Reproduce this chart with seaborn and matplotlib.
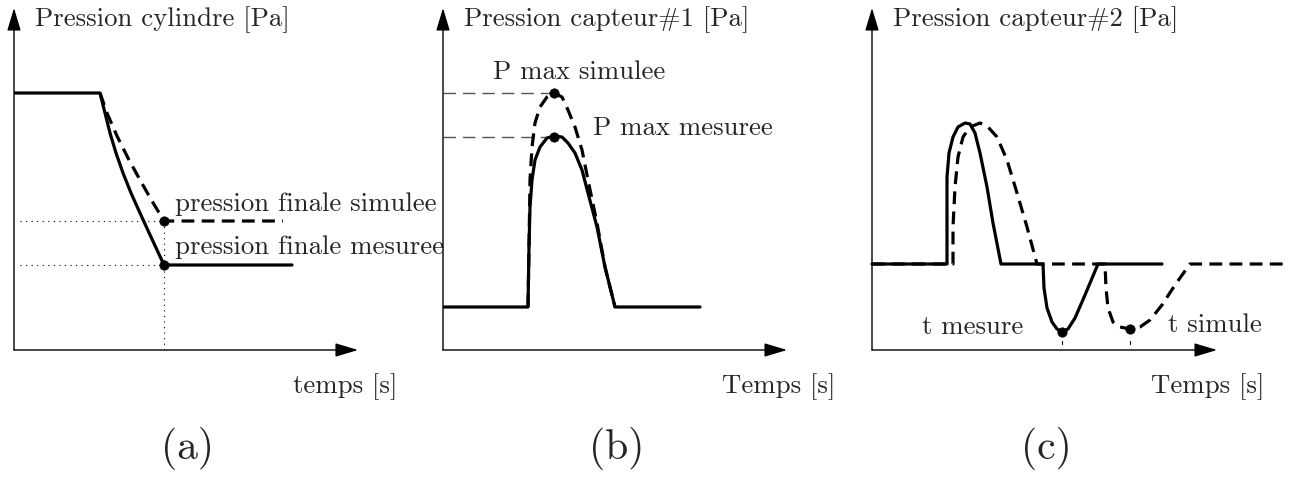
import matplotlib
matplotlib.use("Agg")
import matplotlib.pyplot as plt
import seaborn as sns

# -----------------------------
# Data (schematic curves, local units: x = time, y = pressure)
# -----------------------------
# (a) Pression cylindre
a_mes_t = [0, 86, 91, 96, 102, 109, 117, 126, 137, 150, 278]
a_mes_p = [257, 257, 237, 217, 197, 177, 157, 137, 113, 85, 85]
a_sim_t = [86, 93, 103, 114, 126, 138, 150, 269]
a_sim_p = [257, 237, 214, 192, 170, 149, 129, 129]
a_pts_t = [150, 150]
a_pts_p = [129, 85]

# (b) Pression capteur#1
b_mes_t = [0, 85, 86, 87, 89, 92, 97, 104, 111, 119, 125, 132, 139, 145, 154, 162, 172, 257]
b_mes_p = [43, 43, 103, 143, 170, 190, 203, 212, 214, 213, 207, 197, 180, 157, 123, 83, 43, 43]
b_sim_t = [85, 86, 87, 89, 92, 97, 104, 111, 119, 125, 132, 139, 145, 154, 162, 172]
b_sim_p = [43, 103, 170, 203, 227, 243, 253, 257, 253, 240, 223, 200, 170, 127, 83, 43]
b_pts_t = [111, 111]
b_pts_p = [257, 213]

# (c) Pression capteur#2
c_mes_t = [0, 75, 75, 75, 77, 81, 86, 93, 98, 103, 108, 115, 121, 129, 171,
           172, 175, 180, 185, 190, 196, 203, 213, 226, 290]
c_mes_p = [86, 86, 140, 173, 197, 213, 223, 227, 226, 217, 197, 163, 127, 86, 86,
           62, 42, 28, 21, 18, 21, 32, 55, 86, 86]
c_sim_t = [0, 81, 81, 83, 86, 91, 98, 108, 116, 125, 135, 145, 155, 165,
           233, 234, 236, 241, 248, 258, 268, 278, 290, 303, 318, 415]
c_sim_p = [86, 86, 123, 163, 193, 213, 223, 227, 223, 213, 190, 157, 123, 86,
           86, 62, 42, 28, 23, 21, 23, 30, 45, 65, 86, 86]
c_pts_t = [190, 258]
c_pts_p = [18, 21]

titles = ["Pression cylindre [Pa]", "Pression capteur#1 [Pa]", "Pression capteur#2 [Pa]"]
xlabels = ["temps [s]", "Temps [s]", "Temps [s]"]
tags = ["(a)", "(b)", "(c)"]

# -----------------------------
# Style
# -----------------------------
sns.set_style("white")
plt.rcParams["font.family"] = ["cmr10", "DejaVu Serif"]
plt.rcParams["axes.formatter.use_mathtext"] = True
FS = 19.3

W, H = 1290, 479
fig = plt.figure(figsize=(12.9, 4.79), dpi=100)

origins = [14, 443, 872]
axes = []
for x0 in origins:
    ax = fig.add_axes([x0 / W, (H - 350) / H, 345 / W, 342 / H])
    ax.set_xlim(0, 345)
    ax.set_ylim(0, 342)
    ax.axis("off")
    axes.append(ax)

solid = dict(color="black", lw=2.3, sort=False, estimator=None)
dashed = dict(color="black", lw=2.3, sort=False, estimator=None,
              linestyle=(0, (4.0, 2.3)))
dot_kw = dict(color="black", s=45, zorder=5, clip_on=False, edgecolor="black")
dotted = dict(color="black", lw=0.8, linestyle=(0, (1, 4)))

for i, ax in enumerate(axes):
    # arrowed axes
    arr = dict(arrowstyle="-|>,head_length=1.0,head_width=0.3", color="black",
               lw=1.0, shrinkA=0, shrinkB=0, mutation_scale=14)
    ax.annotate("", xy=(344 if i < 2 else 345, 0), xytext=(0, 0), arrowprops=arr,
                annotation_clip=False)
    ax.annotate("", xy=(0, 342), xytext=(0, 0), arrowprops=arr,
                annotation_clip=False)
    ax.text(21, 330, titles[i], fontsize=FS, va="center", ha="left")
    ax.text(279, -37, xlabels[i], fontsize=FS, va="center", ha="left", clip_on=False)
    ax.text(174, -98, tags[i], fontsize=30, va="center", ha="center", clip_on=False)

# (a)
ax = axes[0]
ax.plot([6, 150], [129, 129], **dotted)
ax.plot([6, 150], [85, 85], **dotted)
ax.plot([150, 150], [129, 0], **dotted)
sns.lineplot(x=a_mes_t, y=a_mes_p, ax=ax, **solid)
sns.lineplot(x=a_sim_t, y=a_sim_p, ax=ax, **dashed)
sns.scatterplot(x=a_pts_t, y=a_pts_p, ax=ax, **dot_kw)
ax.text(161, 146, "pression finale simulee", fontsize=FS, va="center", ha="left",
        clip_on=False)
ax.text(161, 103, "pression finale mesuree", fontsize=FS, va="center", ha="left",
        clip_on=False)

# (b)
ax = axes[1]
ax.plot([0, 111], [257, 257], color="#555555", lw=1.0, linestyle=(0, (9, 5)))
ax.plot([0, 111], [213, 213], color="#555555", lw=1.0, linestyle=(0, (9, 5)))
sns.lineplot(x=b_mes_t, y=b_mes_p, ax=ax, **solid)
sns.lineplot(x=b_sim_t, y=b_sim_p, ax=ax, **dashed)
sns.scatterplot(x=b_pts_t, y=b_pts_p, ax=ax, **dot_kw)
ax.text(50, 278, "P max simulee", fontsize=FS, va="center", ha="left")
ax.text(150, 222, "P max mesuree", fontsize=FS, va="center", ha="left")

# (c)
ax = axes[2]
for t, p in zip(c_pts_t, c_pts_p):
    ax.plot([t, t], [6, 9], color="black", lw=0.8)
sns.lineplot(x=c_mes_t, y=c_mes_p, ax=ax, **solid)
sns.lineplot(x=c_sim_t, y=c_sim_p, ax=ax, **dashed)
for ln in ax.get_lines():
    ln.set_clip_on(False)
sns.scatterplot(x=c_pts_t, y=c_pts_p, ax=ax, **dot_kw)
ax.text(50, 23, "t mesure", fontsize=FS, va="center", ha="left")
ax.text(296, 25, "t simule", fontsize=FS, va="center", ha="left", clip_on=False)

for ax in axes:
    leg = ax.get_legend()
    if leg is not None:
        leg.remove()

fig.savefig("out.png", dpi=100, facecolor="white")
